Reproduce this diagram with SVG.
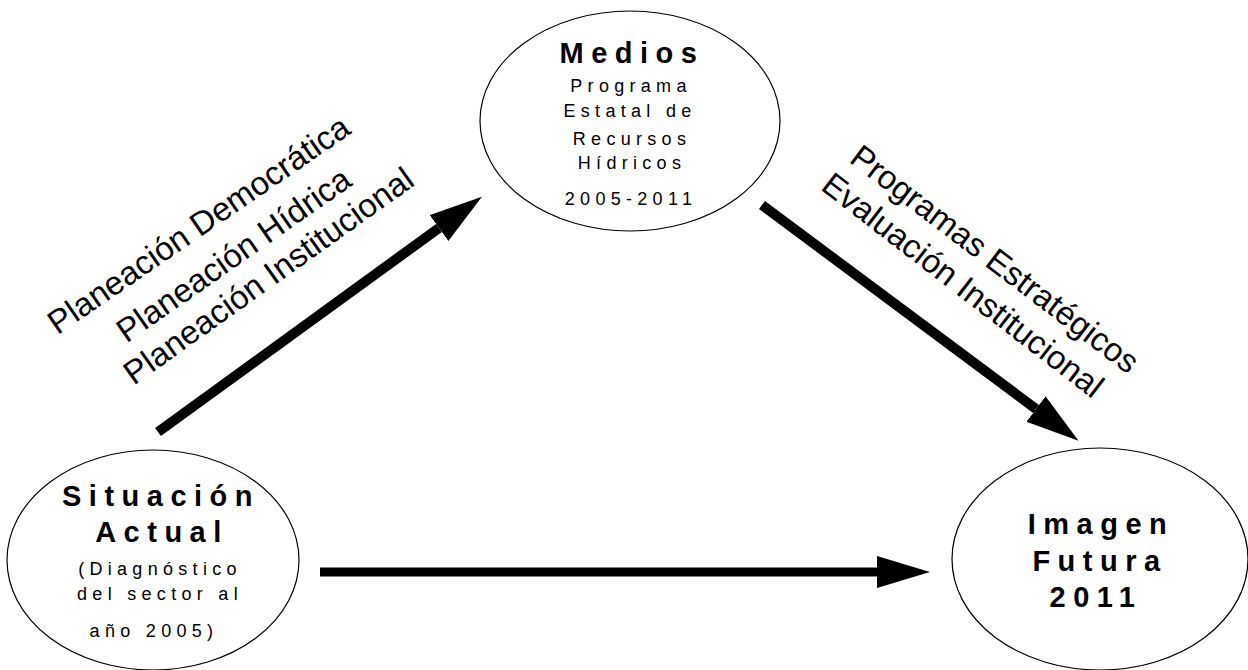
<svg xmlns="http://www.w3.org/2000/svg" width="1248" height="670" viewBox="0 0 1248 670">
<style>
.node ellipse{fill:#fff;stroke:#000;stroke-width:1.2}
.t{font-family:"Liberation Sans",Arial,sans-serif;fill:#000;text-anchor:middle}
.b{font-weight:bold;font-size:29px;letter-spacing:7.5px}
.r{font-size:18px;letter-spacing:5.3px}
.lab{font-family:"Liberation Sans",Arial,sans-serif;font-size:33px;fill:#000;text-anchor:middle}
.conn line{stroke:#000;stroke-width:10;marker-end:url(#ah)}
</style>
<defs>
<marker id="ah" markerUnits="userSpaceOnUse" markerWidth="56" markerHeight="34" refX="0" refY="16" orient="auto" viewBox="0 0 56 34">
<path d="M0,0 L53,16 L0,32 z" fill="#000"/>
</marker>
</defs>
<rect width="1248" height="670" fill="#fff"/>
<g id="connectors" class="conn">
<line x1="158" y1="432" x2="439" y2="228"/>
<line x1="762" y1="205" x2="1036" y2="409"/>
<line x1="320" y1="572" x2="877" y2="572" style="stroke-width:9"/>
</g>
<g id="medios" class="node">
<ellipse cx="630" cy="121" rx="150" ry="110"/>
<text class="t b" x="632" y="63">Medios</text>
<text class="t r" x="631" y="92">Programa</text>
<text class="t r" x="630" y="117">Estatal de</text>
<text class="t r" x="632" y="145">Recursos</text>
<text class="t r" x="632" y="169">Hídricos</text>
<text class="t r" x="631" y="205">2005-2011</text>
</g>
<g id="situacion" class="node">
<ellipse cx="153" cy="560" rx="146" ry="110"/>
<text class="t b" x="161" y="506">Situación</text>
<text class="t b" x="162" y="542">Actual</text>
<text class="t r" x="160" y="575">(Diagnóstico</text>
<text class="t r" x="160" y="600">del sector al</text>
<text class="t r" x="154" y="637">año 2005)</text>
</g>
<g id="imagen" class="node">
<ellipse cx="1100" cy="559" rx="148" ry="111"/>
<text class="t b" x="1101" y="534">Imagen</text>
<text class="t b" x="1100" y="571">Futura</text>
<text class="t b" x="1096" y="607">2011</text>
</g>
<g id="labels">
<text class="lab" transform="rotate(-34.5 205 234)" x="205" y="234">Planeación  Democrática</text>
<text class="lab" transform="rotate(-35 240 264)" x="240" y="264">Planeación Hídrica</text>
<text class="lab" transform="rotate(-35.5 275 285)" x="275" y="285">Planeación Institucional</text>
<text class="lab" transform="rotate(37.3 988 268)" x="988" y="268">Programas Estratégicos</text>
<text class="lab" transform="rotate(37.6 956 294)" x="956" y="294">Evaluación Institucional</text>
</g>
</svg>
